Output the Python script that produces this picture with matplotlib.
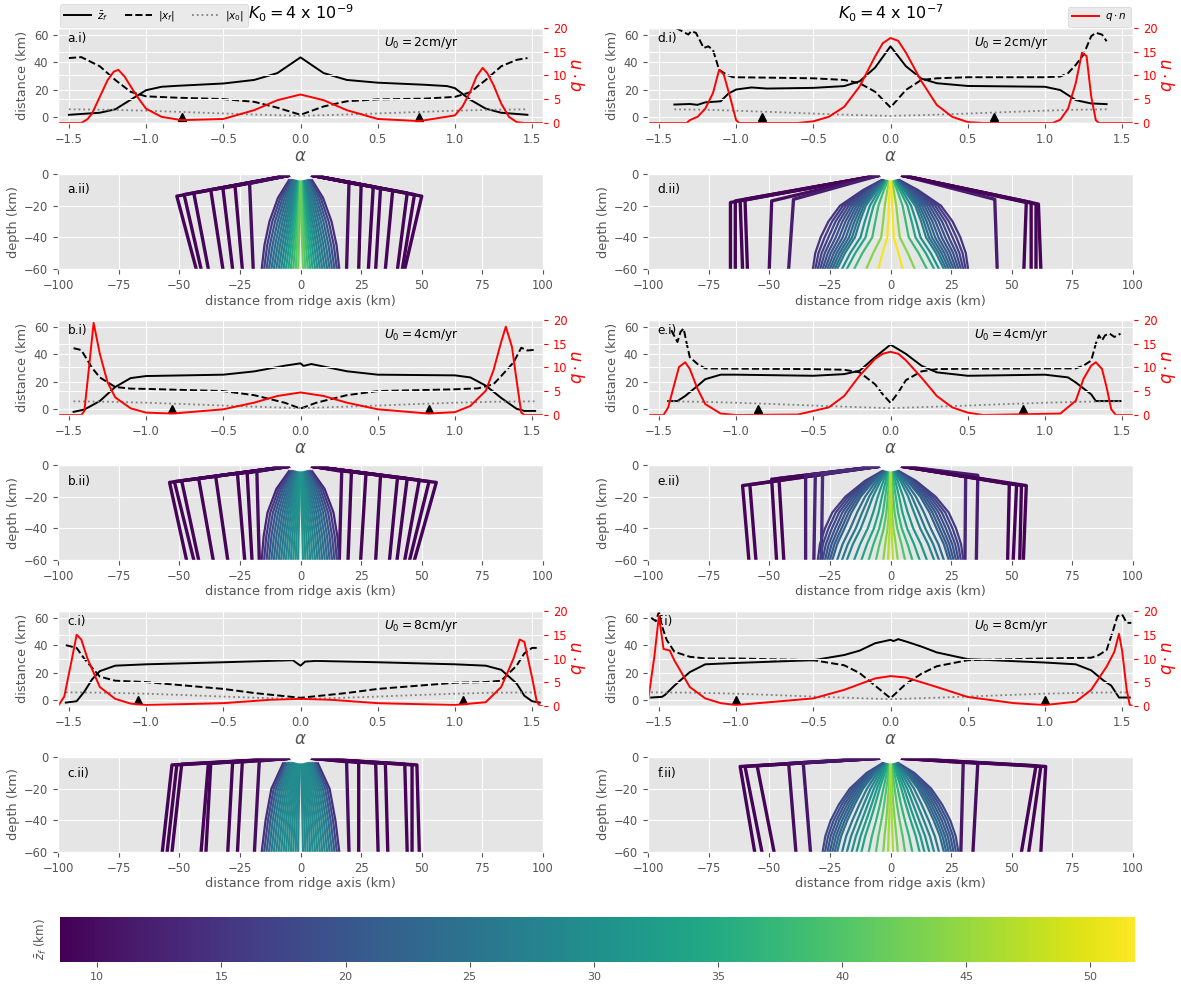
import numpy as np
import matplotlib
matplotlib.use('Agg')
import matplotlib.pyplot as plt
from matplotlib.patches import Ellipse
from matplotlib.colors import Normalize
from matplotlib.cm import ScalarMappable

plt.style.use('ggplot')
plt.rcParams['axes.labelsize'] = 9.3
plt.rcParams['xtick.labelsize'] = 8.3
plt.rcParams['ytick.labelsize'] = 8.3

# ------------------------------------------------------------------ data
# ---- a.i  (K0 = 4e-9, U0 = 2 cm/yr)
a_zf_al = [-1.5, -1.3, -1.2, -1.1, -1.0, -0.9, -0.8, -0.5, -0.3, -0.15, 0.0, 0.15, 0.3, 0.5, 0.8, 0.95, 1.0, 1.1, 1.2, 1.3, 1.47]
a_zf = [1.5, 3, 5.5, 12.5, 19.5, 22, 22.7, 24.4, 27, 32, 43.5, 32, 27, 25, 23.5, 22.5, 21, 12.5, 6, 3, 1.5]
a_xf_al = [-1.5, -1.42, -1.3, -1.2, -1.1, -1.0, -0.8, -0.5, -0.3, -0.15, 0.0, 0.15, 0.3, 0.5, 0.8, 1.0, 1.1, 1.2, 1.3, 1.4, 1.47]
a_xf = [43, 43.7, 37, 27, 18.3, 15, 14, 13, 11, 6.7, 1.5, 7.6, 11.4, 12.8, 13.3, 14.6, 18, 27, 37, 41.7, 43]
a_x0_al = [-1.5, -1.25, -1.0, -0.75, -0.5, -0.25, 0.0, 0.25, 0.5, 0.75, 1.0, 1.25, 1.47]
a_x0 = [5.5, 5.2, 4.5, 3.5, 2.5, 1.5, 0.8, 1.5, 2.5, 3.5, 4.5, 5.2, 5.5]
a_q_al = [-1.57, -1.42, -1.38, -1.35, -1.3, -1.25, -1.21, -1.18, -1.14, -1.1, -1.05, -1.0, -0.9, -0.77, -0.5, -0.3, -0.15, 0.0, 0.15, 0.3, 0.5, 0.77, 1.0, 1.05, 1.1, 1.14, 1.18, 1.21, 1.25, 1.3, 1.35, 1.4, 1.45, 1.57]
a_q = [0, 0, 0.8, 2, 5.5, 9, 10.8, 11.2, 9.8, 7.7, 5.2, 3, 1.3, 0.6, 0.85, 2.7, 4.8, 6.0, 4.8, 2.7, 0.85, 0.4, 1.6, 3.5, 6.6, 9.8, 11.6, 10.5, 8, 4.1, 1.3, 0.2, 0, 0]
a_tri = [-0.77, 0.77]

# ---- b.i  (K0 = 4e-9, U0 = 4 cm/yr)
b_zf_al = [-1.47, -1.4, -1.3, -1.2, -1.1, -1.0, -0.5, -0.3, -0.1, 0.0, 0.02, 0.07, 0.3, 0.5, 1.0, 1.1, 1.2, 1.3, 1.4, 1.45, 1.52]
b_zf = [-2.2, -0.5, 5.7, 16, 22.5, 24, 25, 27.4, 31.6, 33.3, 31.4, 32.8, 27.5, 25, 24.5, 23, 17, 8, 0, -1.5, -1.5]
b_xf_al = [-1.47, -1.42, -1.35, -1.3, -1.2, -1.1, -1.0, -0.5, -0.3, -0.1, 0.0, 0.1, 0.3, 0.5, 1.0, 1.15, 1.25, 1.3, 1.38, 1.43, 1.47, 1.52]
b_xf = [44.4, 43, 30, 23, 16, 14.8, 14.6, 13, 10, 4.4, 0.2, 4.4, 10, 13, 14.3, 15, 18, 24, 34, 44.7, 42.7, 43.2]
b_x0_al = [-1.47, -1.25, -1.0, -0.75, -0.5, -0.25, 0.0, 0.25, 0.5, 0.75, 1.0, 1.25, 1.52]
b_x0 = [5.5, 5.2, 4.5, 3.5, 2.4, 1.4, 0.5, 1.4, 2.4, 3.5, 4.5, 5.2, 5.5]
b_q_al = [-1.57, -1.42, -1.4, -1.37, -1.34, -1.3, -1.25, -1.2, -1.1, -1.0, -0.83, -0.5, -0.3, -0.15, 0.0, 0.15, 0.3, 0.5, 0.83, 1.0, 1.1, 1.2, 1.25, 1.3, 1.33, 1.37, 1.4, 1.43, 1.45, 1.57]
b_q = [0, 0, 0.85, 10, 19.4, 12.9, 6.9, 3.7, 1.4, 0.5, 0.3, 1.2, 2.6, 4, 4.75, 4, 2.6, 1.2, 0.3, 0.6, 1.9, 5.1, 9.4, 15.4, 18.6, 14.3, 7.2, 0.5, 0, 0]
b_tri = [-0.83, 0.83]

# ---- c.i  (K0 = 4e-9, U0 = 8 cm/yr)
c_zf_al = [-1.52, -1.45, -1.4, -1.35, -1.3, -1.2, -1.0, -0.5, -0.05, 0.0, 0.03, 0.1, 0.5, 1.0, 1.2, 1.3, 1.4, 1.45, 1.5, 1.55]
c_zf = [-2, -1, 6, 15, 21, 25, 26, 27.5, 29, 25, 28, 28.5, 27.5, 26, 25, 22, 12, 3, -1, -2]
c_xf_al = [-1.52, -1.45, -1.4, -1.3, -1.2, -1.0, -0.5, -0.3, 0.0, 0.3, 0.5, 1.0, 1.2, 1.3, 1.4, 1.45, 1.5, 1.55]
c_xf = [40, 38, 30, 17, 14, 13, 8, 5, 1.5, 5, 8, 12.5, 13, 14, 25, 34, 38, 38]
c_x0_al = [-1.52, -1.25, -1.0, -0.75, -0.5, -0.25, 0.0, 0.25, 0.5, 0.75, 1.0, 1.25, 1.55]
c_x0 = [5.5, 5.2, 4.5, 3.5, 2.4, 1.4, 0.5, 1.4, 2.4, 3.5, 4.5, 5.2, 5.5]
c_q_al = [-1.57, -1.53, -1.48, -1.45, -1.42, -1.38, -1.3, -1.2, -1.1, -1.0, -0.5, -0.2, 0.0, 0.2, 0.5, 1.0, 1.2, 1.3, 1.38, 1.42, 1.45, 1.5, 1.53, 1.55, 1.57]
c_q = [0, 2, 10, 15, 14, 10, 4, 1.5, 0.5, 0.2, 0.6, 1.3, 1.5, 1.3, 0.6, 0.2, 0.8, 4, 10, 14, 13.5, 6, 1, 0, 0]
c_tri = [-1.05, 1.05]

# ---- d.i  (K0 = 4e-7, U0 = 2 cm/yr)
d_zf_al = [-1.4, -1.3, -1.25, -1.2, -1.1, -1.05, -1.0, -0.9, -0.8, -0.5, -0.3, -0.2, -0.1, 0.0, 0.1, 0.2, 0.3, 0.5, 1.0, 1.1, 1.2, 1.25, 1.3, 1.4]
d_zf = [9, 9.4, 8.8, 10.6, 11.4, 17, 20, 21.5, 20.7, 21.2, 22.5, 26, 36, 51.6, 37, 28, 24.6, 22.6, 22, 19.6, 12.3, 11, 9.8, 9.3]
d_xf_al = [-1.39, -1.35, -1.31, -1.29, -1.26, -1.21, -1.18, -1.15, -1.11, -1.06, -1.02, -0.8, -0.5, -0.3, -0.2, -0.1, 0.0, 0.1, 0.2, 0.3, 0.5, 1.0, 1.1, 1.15, 1.2, 1.25, 1.3, 1.33, 1.37, 1.4]
d_xf = [65, 62.7, 60.2, 62.7, 61.4, 50.4, 51.6, 49, 34.4, 30.7, 29, 28.7, 28.2, 27, 24.6, 18.4, 6.9, 19.7, 27, 28.2, 29, 29, 29.5, 32, 38, 45.5, 59, 61.5, 60.2, 55.3]
d_x0_al = [-1.4, -1.2, -1.0, -0.75, -0.5, -0.25, 0.0, 0.25, 0.5, 0.75, 1.0, 1.2, 1.4]
d_x0 = [5.5, 5.2, 4.5, 3.5, 2.4, 1.4, 0.7, 1.4, 2.4, 3.5, 4.5, 5.2, 5.5]
d_q_al = [-1.57, -1.32, -1.3, -1.25, -1.2, -1.15, -1.11, -1.08, -1.04, -1.0, -0.98, -0.6, -0.5, -0.4, -0.3, -0.2, -0.1, -0.05, 0.0, 0.05, 0.1, 0.2, 0.3, 0.4, 0.5, 0.6, 1.05, 1.1, 1.15, 1.2, 1.24, 1.27, 1.3, 1.33, 1.35, 1.57]
d_q = [0, 0, 0.6, 1.3, 3, 6.3, 11.2, 10.2, 5.6, 0.6, 0, 0, 0.35, 1.3, 3.4, 7.7, 14, 16.8, 17.9, 17.3, 14.8, 8.8, 3.8, 1.3, 0.2, 0, 0, 0.7, 3, 8.4, 14.8, 14.1, 5.6, 0.6, 0, 0]
d_tri = [-0.83, 0.67]

# ---- e.i  (K0 = 4e-7, U0 = 4 cm/yr)
e_zf_al = [-1.44, -1.38, -1.33, -1.25, -1.2, -1.1, -1.0, -0.5, -0.3, -0.2, -0.1, 0.0, 0.1, 0.2, 0.3, 0.5, 1.0, 1.15, 1.2, 1.3, 1.33, 1.49]
e_zf = [5.7, 5.7, 9.4, 16.8, 21.7, 25, 25, 24.2, 25.4, 27.9, 37.8, 47, 40.2, 31.6, 26.7, 24.2, 25, 23, 19.3, 10.6, 5.7, 5.7]
e_xf_al = [-1.42, -1.38, -1.36, -1.34, -1.32, -1.3, -1.25, -1.2, -1.0, -0.5, -0.3, -0.2, -0.1, -0.05, 0.0, 0.05, 0.1, 0.2, 0.3, 0.5, 1.0, 1.2, 1.25, 1.3, 1.33, 1.35, 1.37, 1.39, 1.42, 1.45, 1.49]
e_xf = [57.5, 48.9, 56.3, 58.8, 47.7, 37.8, 32.8, 29.6, 29.4, 29.1, 28.6, 26.7, 18, 10.6, 4.4, 11.9, 21, 27.4, 29.1, 29.4, 29.6, 29.6, 31.6, 35.3, 47.7, 53.8, 50.1, 53.8, 55, 52.6, 55]
e_x0_al = [-1.44, -1.25, -1.0, -0.75, -0.5, -0.25, 0.0, 0.25, 0.5, 0.75, 1.0, 1.25, 1.49]
e_x0 = [5.5, 5.2, 4.5, 3.5, 2.4, 1.4, 0.5, 1.4, 2.4, 3.5, 4.5, 5.2, 5.5]
e_q_al = [-1.57, -1.47, -1.44, -1.4, -1.37, -1.33, -1.3, -1.25, -1.2, -1.1, -1.0, -0.6, -0.4, -0.3, -0.2, -0.1, -0.05, 0.0, 0.05, 0.1, 0.2, 0.3, 0.4, 0.5, 0.6, 1.1, 1.2, 1.25, 1.3, 1.33, 1.37, 1.4, 1.43, 1.46, 1.57]
e_q = [0, 0, 1.6, 6.5, 10.1, 11.1, 9.7, 5.5, 2.3, 0.3, 0, 0.1, 1.6, 4, 8.3, 11.8, 12.9, 13.3, 12.9, 11.5, 7.9, 4, 1.6, 0.5, 0, 0.3, 3, 7.6, 10.4, 11.1, 9.7, 5.8, 1.2, 0, 0]
e_tri = [-0.86, 0.86]

# ---- f.i  (K0 = 4e-7, U0 = 8 cm/yr)
f_zf_al = [-1.55, -1.48, -1.46, -1.4, -1.3, -1.2, -1.0, -0.5, -0.3, -0.2, -0.1, 0.0, 0.02, 0.05, 0.1, 0.2, 0.3, 0.5, 1.0, 1.2, 1.3, 1.38, 1.43, 1.48, 1.55]
f_zf = [1.7, 2.2, 3.7, 10.4, 20.3, 26, 27, 29, 32.8, 36, 41.4, 43.9, 43, 44.4, 42.7, 39, 34.7, 29.8, 27.3, 26, 21.6, 14.1, 10.4, 1.7, 1.7]
f_xf_al = [-1.55, -1.52, -1.5, -1.48, -1.45, -1.4, -1.3, -1.2, -1.0, -0.5, -0.3, -0.2, -0.1, 0.0, 0.1, 0.2, 0.3, 0.5, 1.0, 1.3, 1.35, 1.4, 1.44, 1.47, 1.5, 1.53, 1.56]
f_xf = [60, 57.6, 64.3, 53.8, 43.9, 35.2, 31.5, 30.3, 30.3, 29, 25.3, 19.6, 10.4, 1.2, 11.7, 19.1, 24.6, 29, 30.3, 30.8, 32.8, 36.5, 50.1, 61.3, 62.5, 56.3, 56.3]
f_x0_al = [-1.55, -1.25, -1.0, -0.75, -0.5, -0.25, 0.0, 0.25, 0.5, 0.75, 1.0, 1.25, 1.55]
f_x0 = [5.5, 5.2, 4.5, 3.5, 2.4, 1.4, 0.5, 1.4, 2.4, 3.5, 4.5, 5.2, 5.5]
f_q_al = [-1.57, -1.53, -1.5, -1.47, -1.43, -1.4, -1.3, -1.2, -1.1, -1.0, -0.5, -0.3, -0.1, 0.0, 0.1, 0.3, 0.5, 0.8, 1.0, 1.2, 1.3, 1.4, 1.45, 1.48, 1.5, 1.53, 1.55, 1.57]
f_q = [1.2, 10.3, 19, 12, 11.7, 9.6, 4, 1.6, 0.6, 0.2, 1.6, 3.4, 5.8, 6.3, 6, 4, 1.9, 0.6, 0.2, 0.9, 3.4, 8.3, 11.4, 15.2, 11.7, 3.4, 0.2, 0]
f_tri = [-1.0, 1.0]

top_labels = ['a.i)', 'b.i)', 'c.i)', 'd.i)', 'e.i)', 'f.i)']
bot_labels = ['a.ii)', 'b.ii)', 'c.ii)', 'd.ii)', 'e.ii)', 'f.ii)']
u0_labels = ['2', '4', '8', '2', '4', '8']
k0_titles = [r'$K_0 = 4$ x $10^{-9}$', r'$K_0 = 4$ x $10^{-7}$']

# ---- streamline panels: outer (slow) flowlines, signed bottom x, knee x, knee depth, colour (z_f, km)
a_out_xb = [-43, -41, -38, -32, -28, -24, -19.5, 19, 24, 28, 31, 35, 40, 42, 43]
a_out_xk = [-51, -48, -44, -37, -32, -27, -21, 20, 25, 30, 33, 38, 44, 47, 50]
a_out_zk = [-14, -13, -12, -10, -9, -7.5, -6, -5.5, -7, -8, -9, -10.5, -12, -13, -14]
a_out_c = [9, 9, 9, 9, 9, 9, 10, 10, 9, 9, 9, 9, 9, 9, 9]
a_fan_xb = [16, 15, 14, 13, 12, 11, 10, 9, 8, 7, 6, 5, 4, 3, 2, 1]
a_fan_c = [14, 17, 20, 22, 24, 25, 26, 27, 28, 30, 32, 34, 36, 38, 40, 42]
a_fan_z = [-60, -45, -30, -15, -4]
a_fan_in = [1.0, 0.7, 0.4, 0.15, 0.04]
a_fan_out = [1.0, 0.93, 0.8, 0.58, 0.3]

b_out_xb = [-47, -44, -42, -36, -30, -23, -20, -17, 16, 19.6, 24.8, 31, 36.7, 39.8, 43, 45, 47]
b_out_xk = [-54, -52, -49, -42, -35, -26, -22, -18, 17, 21, 27, 33, 40, 44, 49, 53, 56]
b_out_zk = [-11, -10.5, -10, -8.5, -7, -5.5, -5, -4, -4, -4.5, -5.5, -6.5, -8, -8.5, -9.5, -10.5, -11]
b_out_c = [9, 9, 9, 9, 9, 9, 9, 10, 10, 9, 9, 9, 9, 9, 9, 9, 9]
b_fan_xb = [16, 15, 14, 13, 12, 11, 10, 9, 8, 7, 6, 5, 4, 3, 2, 1]
b_fan_c = [13, 16, 18, 20, 22, 23, 24, 25, 26, 27, 28, 29, 29, 30, 30, 31]
b_fan_z = [-60, -45, -30, -15, -4]
b_fan_in = [1.0, 0.8, 0.55, 0.3, 0.08]
b_fan_out = [1.0, 0.95, 0.85, 0.62, 0.3]

c_out_xb = [-57, -55, -53, -41, -39, -30, -26, -19, 20, 24, 32, 36, 44, 46, 49]
c_out_xk = [-53, -51, -49, -38, -37, -28, -24, -17, 19, 24, 31, 35, 43, 46, 48]
c_out_zk = [-5, -5, -4.5, -4, -4, -3.5, -3, -2.5, -3, -3.5, -4, -4, -4.5, -5, -5]
c_out_c = [9, 9, 9, 9, 9, 9, 9, 10, 10, 9, 9, 9, 9, 9, 9]
c_fan_xb = [16, 15, 14, 13, 12, 11, 10, 9, 8, 7, 6, 5, 4, 3, 2, 1]
c_fan_c = [14, 18, 21, 24, 26, 27, 28, 28, 29, 29, 29, 29, 29, 29, 29, 29]
c_fan_z = [-60, -40, -20, -4]
c_fan_in = [1.0, 0.8, 0.55, 0.25]
c_fan_out = [1.0, 0.9, 0.75, 0.45]

d_out_xb = [-66, -64, -61, -59, -50, -42, 44, 55, 58, 60, 62]
d_out_xk = [-66, -64, -62, -60, -49, -40, 43, 56, 58, 60, 61]
d_out_zk = [-18, -17, -17, -16, -17, -16, -16, -18, -18, -19, -19]
d_out_c = [9, 9, 9, 9, 10, 12, 12, 9, 9, 9, 9]
d_fan_xb = [32, 31, 30, 29, 28, 27, 26, 25, 24, 23, 22, 20, 18, 15, 10, 5]
d_fan_c = [15, 16, 17, 18, 19, 20, 21, 22, 23, 25, 27, 30, 34, 38, 44, 51]
d_fan_z = [-60, -50, -40, -30, -20, -10, -4]
d_fan_in = [1.0, 0.6, 0.15, 0.08, 0.05, 0.03, 0.02]
d_fan_out = [1.0, 0.97, 0.9, 0.8, 0.65, 0.35, 0.12]

e_out_xb = [-58.4, -55.5, -47, -44, -35, -31.6, -28.5, 30.7, 35.4, 48.3, 50.6, 53.3, 54.8]
e_out_xk = [-61, -58, -49, -46, -35, -31, -28, 31, 36, 49, 52, 54, 56]
e_out_zk = [-13, -12.5, -9, -8.5, -6.5, -6, -5.5, -6, -6.5, -12, -12.5, -13, -13]
e_out_c = [9, 9, 9, 9, 12, 13, 14, 13, 12, 9, 9, 9, 9]
e_fan_xb = [30, 29, 28, 27, 26, 25, 24, 22, 20, 18, 15, 12, 9, 6, 3, 1]
e_fan_c = [16, 17, 18, 19, 20, 21, 22, 24, 26, 28, 31, 34, 37, 40, 44, 47]
e_fan_z = [-60, -50, -40, -30, -20, -10, -4]
e_fan_in = [1.0, 0.7, 0.35, 0.15, 0.08, 0.04, 0.02]
e_fan_out = [1.0, 0.97, 0.9, 0.8, 0.62, 0.35, 0.12]

f_out_xb = [-56, -53, -48, -39, -33, 29, 34, 54, 57, 62]
f_out_xk = [-62, -60, -55, -42, -36, 30, 36, 60, 62, 64]
f_out_zk = [-6, -6, -5.5, -4, -3.5, -3.5, -4, -5.5, -6, -6]
f_out_c = [9, 9, 9, 10, 11, 11, 10, 9, 9, 9]
f_fan_xb = [28, 27, 26, 25, 24, 23, 22, 20, 18, 16, 14, 12, 9, 6, 3, 1]
f_fan_c = [18, 19, 20, 21, 22, 23, 24, 26, 28, 30, 32, 34, 37, 40, 43, 46]
f_fan_z = [-60, -50, -40, -30, -20, -10, -4]
f_fan_in = [1.0, 0.8, 0.55, 0.35, 0.2, 0.08, 0.03]
f_fan_out = [1.0, 0.96, 0.88, 0.76, 0.6, 0.35, 0.12]

cb_ticks = [10, 15, 20, 25, 30, 35, 40, 45, 50]
zf_min, zf_max = 8.5, 51.8

# ------------------------------------------------------------------ figure
W, H = 1181, 985
fig = plt.figure(figsize=(W / 100, H / 100), dpi=100)
cmap = plt.get_cmap('viridis')
norm = Normalize(zf_min, zf_max)

col_left = [58, 648]
ax_w = 485
row_tops = [28, 174, 320, 465, 611, 757]
ax_h = 95


def add_ax(x, top, w, h):
    return fig.add_axes([x / W, 1 - (top + h) / H, w / W, h / H])


tops = [
    (a_zf_al, a_zf, a_xf_al, a_xf, a_x0_al, a_x0, a_q_al, a_q, a_tri),
    (b_zf_al, b_zf, b_xf_al, b_xf, b_x0_al, b_x0, b_q_al, b_q, b_tri),
    (c_zf_al, c_zf, c_xf_al, c_xf, c_x0_al, c_x0, c_q_al, c_q, c_tri),
    (d_zf_al, d_zf, d_xf_al, d_xf, d_x0_al, d_x0, d_q_al, d_q, d_tri),
    (e_zf_al, e_zf, e_xf_al, e_xf, e_x0_al, e_x0, e_q_al, e_q, e_tri),
    (f_zf_al, f_zf, f_xf_al, f_xf, f_x0_al, f_x0, f_q_al, f_q, f_tri),
]
bots = [
    (a_out_xb, a_out_xk, a_out_zk, a_out_c, a_fan_xb, a_fan_c, a_fan_z, a_fan_in, a_fan_out),
    (b_out_xb, b_out_xk, b_out_zk, b_out_c, b_fan_xb, b_fan_c, b_fan_z, b_fan_in, b_fan_out),
    (c_out_xb, c_out_xk, c_out_zk, c_out_c, c_fan_xb, c_fan_c, c_fan_z, c_fan_in, c_fan_out),
    (d_out_xb, d_out_xk, d_out_zk, d_out_c, d_fan_xb, d_fan_c, d_fan_z, d_fan_in, d_fan_out),
    (e_out_xb, e_out_xk, e_out_zk, e_out_c, e_fan_xb, e_fan_c, e_fan_z, e_fan_in, e_fan_out),
    (f_out_xb, f_out_xk, f_out_zk, f_out_c, f_fan_xb, f_fan_c, f_fan_z, f_fan_in, f_fan_out),
]

for i in range(6):
    col = i // 3
    row = i % 3
    x0px = col_left[col]
    # ---------------- top (.i) panel
    zf_al, zf, xf_al, xf, x0_al, x0, q_al, q, tri = tops[i]
    ax = add_ax(x0px, row_tops[2 * row], ax_w, ax_h)
    l1, = ax.plot(zf_al, zf, color='black', lw=1.4, label=r'$\bar{z}_f$')
    l2, = ax.plot(xf_al, xf, color='black', lw=1.4, ls='--', label=r'$|x_f|$')
    l3, = ax.plot(x0_al, x0, color='gray', lw=1.3, ls=':', label=r'$|x_0|$')
    ax.plot(tri, [0] * len(tri), '^', color='black', ms=6)
    ax.set_xlim(-np.pi / 2, np.pi / 2)
    ax.set_ylim(-4.5, 65)
    ax.set_yticks([0, 20, 40, 60])
    ax.set_xticks([-1.5, -1.0, -0.5, 0.0, 0.5, 1.0, 1.5])
    ax.set_ylabel('distance (km)', labelpad=3)
    ax.set_xlabel(r'$\alpha$', labelpad=1, fontsize=12)
    ax.text(0.02, 0.96, top_labels[i], transform=ax.transAxes, ha='left', va='top', fontsize=8.7)
    ax.text(0.75, 0.84, r'$U_0 = $' + u0_labels[i] + 'cm/yr', transform=ax.transAxes,
            ha='center', va='center', fontsize=8.8)
    ax2 = ax.twinx()
    l4, = ax2.plot(q_al, q, color='red', lw=1.4, label=r'$q \cdot n$')
    ax2.set_ylim(0, 20)
    ax2.set_yticks([0, 5, 10, 15, 20])
    ax2.tick_params(axis='y', colors='red')
    ax2.set_ylabel(r'$q \cdot n$', color='red', labelpad=2, fontsize=12)
    if row == 0:
        ax.set_title(k0_titles[col], fontsize=11.5, pad=6)
        if col == 0:
            ax.legend(handles=[l1, l2, l3], loc='lower left', bbox_to_anchor=(0.0, 0.99),
                      ncol=3, fontsize=7.5, borderaxespad=0.15, handlelength=2.6,
                      columnspacing=1.6, handletextpad=0.6)
        else:
            ax2.legend(handles=[l4], loc='lower right', bbox_to_anchor=(1.0, 0.99),
                       fontsize=7.5, borderaxespad=0.15, handlelength=2.6, handletextpad=0.6)

    # ---------------- bottom (.ii) panel
    oxb, oxk, ozk, oc, fxb, fc, fz, fin, fout = bots[i]
    bx = add_ax(x0px, row_tops[2 * row + 1], ax_w, ax_h)
    for xb, xk, zk, c in zip(oxb, oxk, ozk, oc):
        s = np.sign(xb)
        bx.plot([xb, xk, s * 4.5], [-60, zk, -0.8], color=cmap(norm(c)), lw=2.4,
                solid_capstyle='round', solid_joinstyle='round')
    fz_a = np.array(fz)
    fin_a = np.array(fin)
    fout_a = np.array(fout)
    xmax = max(fxb)
    for xb, c in zip(fxb, fc):
        w = xb / xmax
        frac = fin_a + (fout_a - fin_a) * w
        for s in (1, -1):
            bx.plot(s * xb * frac, fz_a, color=cmap(norm(c)), lw=1.6)
    bx.add_patch(Ellipse((0, 0), 9, 8, facecolor='white', edgecolor='none', zorder=5))
    bx.set_xlim(-100, 100)
    bx.set_ylim(-60, 0)
    bx.set_yticks([-60, -40, -20, 0])
    bx.set_xticks([-100, -75, -50, -25, 0, 25, 50, 75, 100])
    bx.set_xlabel('distance from ridge axis (km)', labelpad=2)
    bx.set_ylabel('depth (km)', labelpad=3)
    bx.text(0.02, 0.9, bot_labels[i], transform=bx.transAxes, ha='left', va='top', fontsize=8.7)

# ---------------- colour bar
cax = add_ax(60, 917, 1075, 45)
sm = ScalarMappable(norm=norm, cmap=cmap)
cb = fig.colorbar(sm, cax=cax, orientation='horizontal', ticks=cb_ticks)
cb.outline.set_visible(False)
cb.ax.tick_params(labelsize=8)
cax.set_ylabel(r'$\bar{z}_f$ (km)', fontsize=8.5, rotation=90, labelpad=8)

fig.savefig('out.png', dpi=100)
